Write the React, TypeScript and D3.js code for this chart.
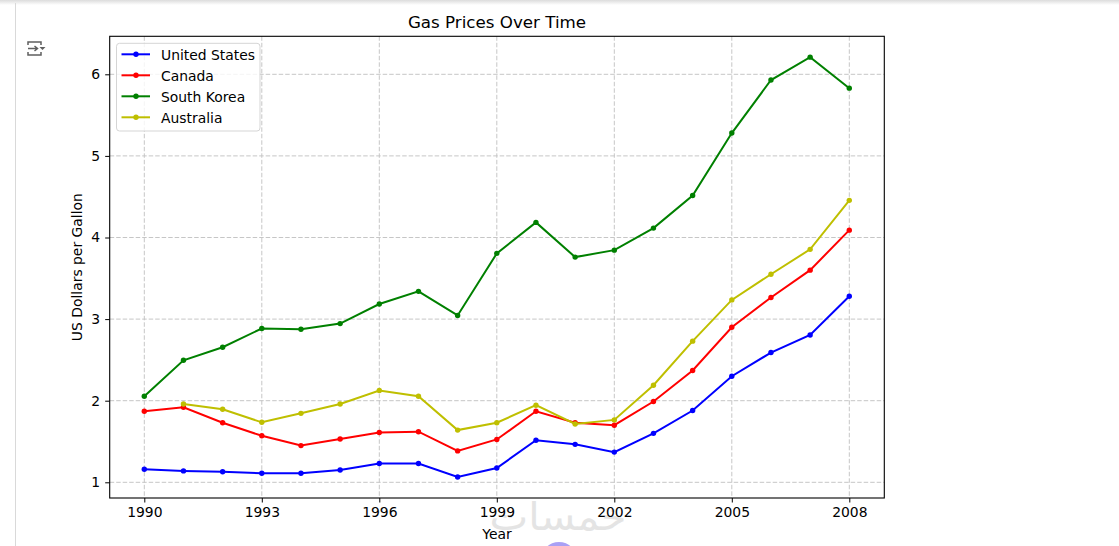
import React, { useEffect, useRef } from 'react';
import * as d3 from 'd3';

const years = [1990, 1991, 1992, 1993, 1994, 1995, 1996, 1997, 1998, 1999, 2000, 2001, 2002, 2003, 2004, 2005, 2006, 2007, 2008];
const xTicks = [1990, 1993, 1996, 1999, 2002, 2005, 2008];
const yTicks = [1, 2, 3, 4, 5, 6];

const unitedStates = [1.16, 1.14, 1.13, 1.11, 1.11, 1.15, 1.23, 1.23, 1.065, 1.175, 1.515, 1.465, 1.37, 1.6, 1.88, 2.3, 2.59, 2.805, 3.28];
const canada = [1.87, 1.92, 1.73, 1.57, 1.45, 1.53, 1.61, 1.62, 1.385, 1.525, 1.87, 1.73, 1.7, 1.99, 2.37, 2.9, 3.265, 3.6, 4.09];
const southKorea = [2.055, 2.495, 2.655, 2.885, 2.875, 2.945, 3.185, 3.34, 3.045, 3.805, 4.185, 3.76, 3.845, 4.115, 4.515, 5.28, 5.93, 6.21, 5.83];
const australia = [null, 1.96, 1.895, 1.735, 1.845, 1.96, 2.125, 2.055, 1.64, 1.73, 1.945, 1.715, 1.765, 2.19, 2.73, 3.235, 3.55, 3.855, 4.455];

const seriesNames = ['United States', 'Canada', 'South Korea', 'Australia'];
const seriesValues = [unitedStates, canada, southKorea, australia];
const seriesColors = ['#0000ff', '#ff0000', '#008000', '#bfbf00'];

const FONT = '"DejaVu Sans", sans-serif';
const FONT_SIZE = 13.9;

export default function App() {
  const ref = useRef<SVGSVGElement | null>(null);

  useEffect(() => {
    document.body.style.margin = '0';
    if (!ref.current) return;
    const svg = d3.select(ref.current);
    svg.selectAll('*').remove();

    const width = 1119;
    const height = 546;
    const margin = { top: 36.3, right: 234.7, bottom: 48, left: 109.7 };
    const innerWidth = width - margin.left - margin.right;
    const innerHeight = height - margin.top - margin.bottom;

    // page furniture around the plot (notebook output)
    const defs = svg.append('defs');
    const grad = defs.append('linearGradient').attr('id', 'topShade').attr('x1', 0).attr('x2', 0).attr('y1', 0).attr('y2', 1);
    grad.append('stop').attr('offset', '0%').attr('stop-color', '#dcdcdc');
    grad.append('stop').attr('offset', '100%').attr('stop-color', '#ffffff');
    svg.append('rect').attr('width', width).attr('height', 5).attr('fill', 'url(#topShade)');
    svg.append('line').attr('x1', 15.5).attr('x2', 15.5).attr('y1', 3).attr('y2', height).attr('stroke', '#d9d9d9');
    svg.append('path')
      .attr('d', 'M28 45 v-3 h13 v3 M28 52 v3 h13 v-3 M28 48.5 h9 M34.5 46 l3 2.5 l-3 2.5')
      .attr('fill', 'none').attr('stroke', '#5f5f5f').attr('stroke-width', 1.5);
    svg.append('path').attr('d', 'M39.5 47 h6 l-3 3 z').attr('fill', '#5f5f5f');

    // Site watermark and badge sit behind the figure text
    svg.append('text').attr('x', 558).attr('y', 530).attr('text-anchor', 'middle').attr('direction', 'rtl')
      .attr('font-family', FONT).attr('font-size', 38)
      .attr('textLength', 137).attr('lengthAdjust', 'spacingAndGlyphs')
      .attr('fill', '#e4e4e4').text('خمسات');
    svg.append('circle').attr('cx', 559).attr('cy', 560).attr('r', 18).attr('fill', '#a9a0f5');

    const g = svg.append('g').attr('transform', `translate(${margin.left},${margin.top})`);

    const x = d3.scaleLinear().domain([1990, 2008]).range([34.6, 739.6]);
    const y = d3.scaleLinear().domain([1, 6]).range([446, 38]);

    // Grid lines
    g.selectAll('.grid-x').data(xTicks).enter().append('line')
      .attr('x1', d => x(d)).attr('x2', d => x(d)).attr('y1', 0).attr('y2', innerHeight)
      .attr('stroke', '#c6c6c6').attr('stroke-width', 1).attr('stroke-dasharray', '4.5,2');
    g.selectAll('.grid-y').data(yTicks).enter().append('line')
      .attr('x1', 0).attr('x2', innerWidth).attr('y1', d => y(d)).attr('y2', d => y(d))
      .attr('stroke', '#c6c6c6').attr('stroke-width', 1).attr('stroke-dasharray', '4.5,2');

    const line = d3.line<number | null>()
      .defined(d => d !== null)
      .x((_, i) => x(years[i]))
      .y(d => y(d as number));

    seriesValues.forEach((values, s) => {
      g.append('path').datum(values).attr('d', line).attr('fill', 'none')
        .attr('stroke', seriesColors[s]).attr('stroke-width', 2);
      g.selectAll(null).data(values.map((v, i) => ({ v, year: years[i] })).filter(d => d.v !== null)).enter().append('circle')
        .attr('cx', d => x(d.year)).attr('cy', d => y(d.v as number)).attr('r', 2.7).attr('fill', seriesColors[s]);
    });

    // Axes
    const axisX = g.append('g').attr('transform', `translate(0,${innerHeight})`)
      .call(d3.axisBottom(x).tickValues(xTicks).tickFormat(d => String(d)).tickSize(4.5).tickPadding(5));
    const axisY = g.append('g')
      .call(d3.axisLeft(y).tickValues(yTicks).tickFormat(d => String(d)).tickSize(4.5).tickPadding(5));
    [axisX, axisY].forEach(a => {
      a.select('.domain').remove();
      a.selectAll('line').attr('stroke', '#000').attr('stroke-width', 1);
      a.selectAll('text').attr('font-family', FONT).attr('font-size', FONT_SIZE).attr('fill', '#000');
    });
    g.append('rect').attr('width', innerWidth).attr('height', innerHeight)
      .attr('fill', 'none').attr('stroke', '#000').attr('stroke-width', 1.1);

    // Titles
    svg.append('text').attr('x', margin.left + innerWidth / 2).attr('y', 28).attr('text-anchor', 'middle')
      .attr('font-family', FONT).attr('font-size', 16.7).text('Gas Prices Over Time');
    svg.append('text').attr('x', margin.left + innerWidth / 2).attr('y', 539).attr('text-anchor', 'middle')
      .attr('font-family', FONT).attr('font-size', FONT_SIZE).text('Year');
    svg.append('text').attr('transform', `translate(82,${margin.top + innerHeight / 2}) rotate(-90)`).attr('text-anchor', 'middle')
      .attr('font-family', FONT).attr('font-size', FONT_SIZE).text('US Dollars per Gallon');

    // Legend
    const legend = svg.append('g').attr('transform', 'translate(116.5,43.3)');
    legend.append('rect').attr('width', 143.5).attr('height', 87.7).attr('rx', 3)
      .attr('fill', '#ffffff').attr('fill-opacity', 0.8).attr('stroke', '#d5d5d5');
    seriesNames.forEach((name, i) => {
      const row = legend.append('g').attr('transform', `translate(0,${11 + i * 21})`);
      row.append('line').attr('x1', 5).attr('x2', 33.5).attr('stroke', seriesColors[i]).attr('stroke-width', 2);
      row.append('circle').attr('cx', 19.5).attr('r', 2.7).attr('fill', seriesColors[i]);
      row.append('text').attr('x', 44.5).attr('y', 6).attr('font-family', FONT).attr('font-size', FONT_SIZE).text(name);
    });
  }, []);

  return <svg ref={ref} width={1119} height={546} style={{ display: 'block', background: '#fff' }} />;
}
